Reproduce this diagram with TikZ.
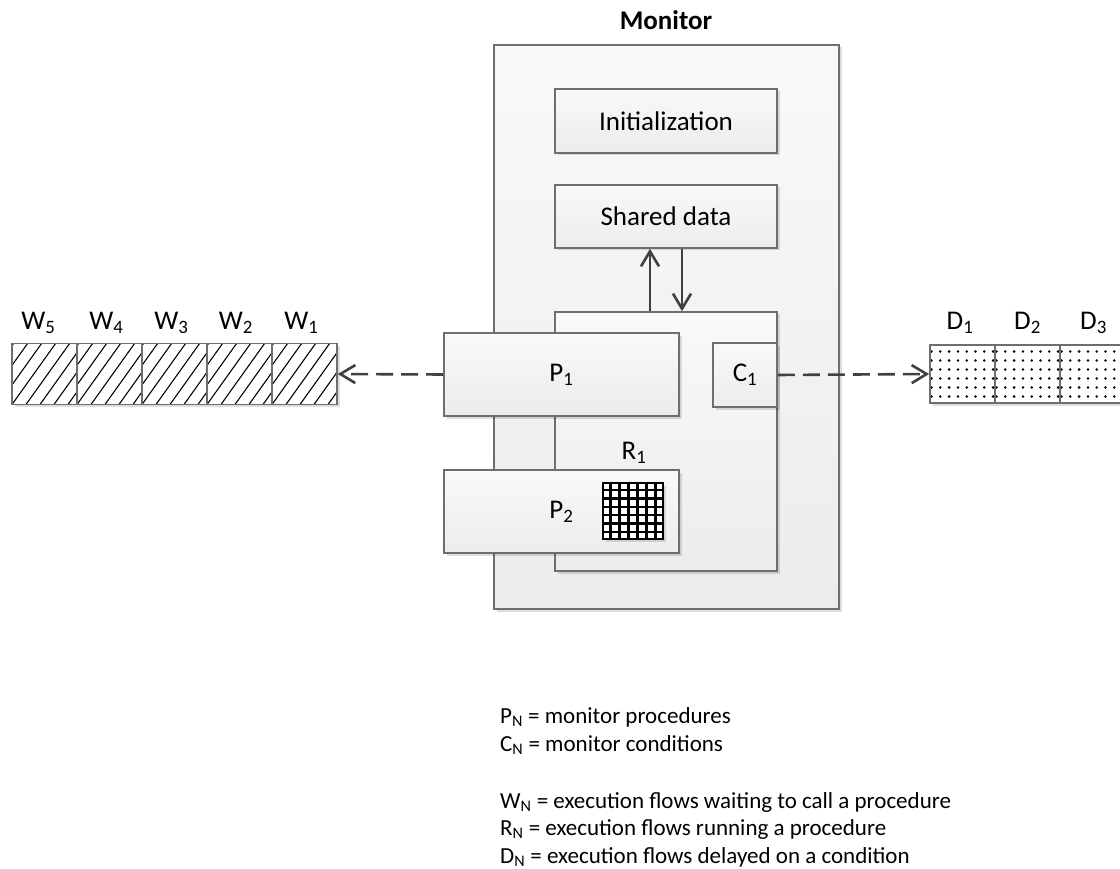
\documentclass[tikz,border=0pt]{standalone}
\usepackage{fontspec}
\setmainfont{Carlito}
\usetikzlibrary{arrows.meta,shadows,calc}
\definecolor{edge}{HTML}{6E6E6E}
\definecolor{boxtop}{HTML}{F9F9F9}
\definecolor{boxbot}{HTML}{ECECEC}
\definecolor{arrowc}{HTML}{404040}
\begin{document}
\begin{tikzpicture}[x=1pt,y=-1pt,
  font=\fontsize{27}{32}\selectfont,
  softshadow/.style={drop shadow={shadow xshift=2.5pt, shadow yshift=-2.5pt, fill=black, opacity=0.13}},
  box/.style={draw=edge, line width=1.6pt, top color=boxtop, bottom color=boxbot,
              inner sep=0pt, softshadow},
  cell/.style={draw=edge, line width=1.6pt, fill=white, inner sep=0pt,
               minimum width=65pt, minimum height=61pt, softshadow},
  hatched/.style={path picture={
      \foreach \k in {-56,-42,...,70}
        \draw[black, line width=1.1pt]
          ([xshift=\k pt]path picture bounding box.south west) -- ++(45pt,63pt);}},
  dotted cell/.style={path picture={
      \foreach \i in {0,...,7}
        \foreach \j in {0,...,5}
          \fill[black] ([xshift=1.5pt+\i*8.8pt, yshift=-6.5pt-\j*9pt]path picture bounding box.north west) circle (1.4pt);}},
  label/.style={inner sep=0pt},
  legend/.style={anchor=west, inner sep=0pt, font=\fontsize{23}{28}\selectfont},
  flow/.style={draw=arrowc, line width=2.6pt, -{Straight Barb[length=15pt,width=18pt,line width=2.6pt]}},
  dasharrow/.style={flow, dash pattern=on 17pt off 8pt}
]
\path[use as bounding box] (0,0) rectangle (1120,869);

% monitor frame and its fixed parts
\node[font=\fontsize{27}{32}\selectfont\bfseries] (title) at (666,20) {Monitor};
\node[box, minimum width=345pt, minimum height=564pt] (mon) at (666.5,327) {};
\node[box, minimum width=222pt, minimum height=64pt] (init) at (666,121) {Initialization};
\node[box, minimum width=222pt, minimum height=63pt] (shared) at (666,216.5) {Shared data};
\node[box, minimum width=222pt, minimum height=259pt] (inner) at (666,441.5) {};

% procedures and condition
\node[box, minimum width=235pt, minimum height=83pt] (p1) at (561.5,374.5) {P\textsubscript{1}};
\node[box, minimum width=235pt, minimum height=83pt] (p2) at (561.5,511.5) {P\textsubscript{2}};
\node[box, minimum width=64pt, minimum height=64pt] (c1) at (745,375) {C\textsubscript{1}};

% running flow R1
\node[draw=black, line width=2.6pt, fill=white, inner sep=0pt,
      minimum width=60pt, minimum height=56pt, softshadow] (r1) at (633,511) {};
\foreach \i in {1,...,6} {
  \draw[black, line width=2.6pt] ($(r1.north west)!\i/7!(r1.north east)$) -- ($(r1.south west)!\i/7!(r1.south east)$);
  \draw[black, line width=2.6pt] ($(r1.north west)!\i/7!(r1.south west)$) -- ($(r1.north east)!\i/7!(r1.south east)$);
}
\node[label] (r1lab) at (634,453) {R\textsubscript{1}};

% access to the shared data
\draw[flow] ($(inner.north)+(-16,0)$) -- ($(shared.south)+(-16,0)$);
\draw[flow] ($(shared.south)+(16,0)$) -- ($(inner.north)+(16,0)$);

% queue of waiting flows
\node[cell, hatched] (w5) at (44.5,374) {};
\node[cell, hatched] (w4) at (109.5,374) {};
\node[cell, hatched] (w3) at (174.5,374) {};
\node[cell, hatched] (w2) at (239.5,374) {};
\node[cell, hatched] (w1) at (304.5,374) {};
\node[label] (w5lab) at (38.5,323) {W\textsubscript{5}};
\node[label] (w4lab) at (106.5,323) {W\textsubscript{4}};
\node[label] (w3lab) at (171.5,323) {W\textsubscript{3}};
\node[label] (w2lab) at (236,323) {W\textsubscript{2}};
\node[label] (w1lab) at (301.5,323) {W\textsubscript{1}};

% queue of delayed flows
\node[cell, dotted cell, minimum height=58pt] (d1) at (962.5,374) {};
\node[cell, dotted cell, minimum height=58pt] (d2) at (1027.5,374) {};
\node[cell, dotted cell, minimum height=58pt] (d3) at (1092.5,374) {};
\node[label] (d1lab) at (960,323) {D\textsubscript{1}};
\node[label] (d2lab) at (1027.5,323) {D\textsubscript{2}};
\node[label] (d3lab) at (1093.5,323) {D\textsubscript{3}};

% queue connectors
\draw[dasharrow] (p1.west) -- (w1.east);
\draw[dasharrow] (c1.east) -- (d1.west);

% legend
\node[legend] (lp) at (500,717) {P\textsubscript{N} = monitor procedures};
\node[legend] (lc) at (500,745) {C\textsubscript{N} = monitor conditions};
\node[legend] (lw) at (500,802) {W\textsubscript{N} = execution flows waiting to call a procedure};
\node[legend] (lr) at (500,829) {R\textsubscript{N} = execution flows running a procedure};
\node[legend] (ld) at (500,857) {D\textsubscript{N} = execution flows delayed on a condition};
\end{tikzpicture}
\end{document}
